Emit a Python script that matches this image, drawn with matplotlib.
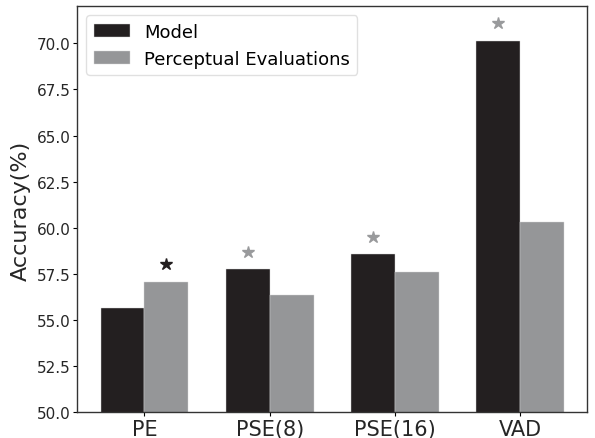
import matplotlib.pyplot as plt
import numpy as np

# accuracy per condition
categories = ['PE', 'PSE(8)', 'PSE(16)', 'VAD']
model_acc = [55.68, 57.76, 58.57, 70.14]
perceptual_acc = [57.09, 56.37, 57.61, 60.34]

# significance stars: which bar gets one, and its colour
star_on = ['perceptual', 'model', 'model', 'model']
star_colors = ['#231f20', '#999a9c', '#999a9c', '#999a9c']

dark = '#231f20'
gray = '#959698'
width = 0.35

fig = plt.figure(figsize=(5.95, 4.39), dpi=100)
ax = fig.add_axes([0.130, 0.0585, 0.857, 0.9245])

x = np.arange(len(categories))
ax.bar(x - width / 2, model_acc, width, color=dark, edgecolor='#d8d8d8', linewidth=0.3, label='Model')
ax.bar(x + width / 2, perceptual_acc, width, color=gray, edgecolor='#d8d8d8', linewidth=0.3,
       label='Perceptual Evaluations')

for i, which in enumerate(star_on):
    if which == 'model':
        sx, sy = x[i] - width / 2, model_acc[i]
    else:
        sx, sy = x[i] + width / 2, perceptual_acc[i]
    ax.plot(sx, sy + 0.95, marker='*', markersize=9, color=star_colors[i], linestyle='none')

ax.set_ylim(50, 72)
ax.set_yticks(np.arange(50, 70.1, 2.5))
ax.set_yticklabels([f'{v:.1f}' for v in np.arange(50, 70.1, 2.5)], fontsize=11, color='#262626')
ax.set_xticks(x)
ax.set_xticklabels(categories, fontsize=15, color='#262626')
ax.set_ylabel('Accuracy(%)', fontsize=16, color='#262626', labelpad=4)
ax.tick_params(length=3, width=0.8, pad=2)
for sp in ax.spines.values():
    sp.set_color('#333333')
    sp.set_linewidth(1.0)

ax.legend(loc='upper left', fontsize=13, framealpha=0.8, edgecolor='0.85')

fig.savefig('out.png', dpi=100)
